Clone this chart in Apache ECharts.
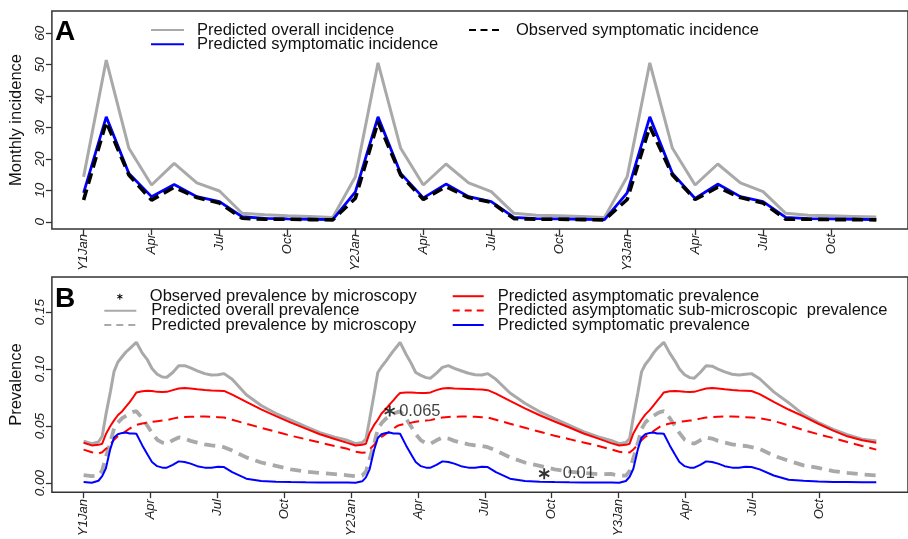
<!DOCTYPE html>
<html><head><meta charset="utf-8">
<script src="https://cdn.jsdelivr.net/npm/echarts@6/dist/echarts.min.js"></script>
<style>html,body{margin:0;padding:0;background:#fff}#c{width:908px;height:539px}</style>
</head><body><div id="c"></div>
<script>
// ---------- Panel A: monthly incidence (36 months) ----------
const overallInc = [14.3, 51.5, 23.4, 11.7, 18.6, 12.4, 9.8, 2.7, 2.2, 1.9, 1.7, 1.4,
                    14.3, 50.6, 23.4, 11.7, 18.4, 12.4, 9.6, 2.7, 2.1, 1.9, 1.7, 1.4,
                    14.3, 50.6, 23.4, 11.7, 18.4, 12.4, 9.6, 2.7, 2.1, 1.9, 1.7, 1.5];
const symptInc   = [9.2, 33.4, 15.4, 8.0, 11.9, 8.0, 6.4, 1.6, 1.1, 0.9, 0.8, 0.7,
                    9.5, 33.4, 15.4, 7.6, 12.0, 8.0, 6.4, 1.4, 1.0, 0.9, 0.8, 0.7,
                    9.2, 33.4, 15.4, 7.4, 12.0, 8.0, 6.4, 1.4, 1.0, 0.9, 0.8, 0.7];
const observedInc = [6.9, 31.8, 14.9, 6.9, 11.0, 7.7, 6.0, 1.1, 0.8, 0.8, 0.7, 0.6,
                     7.5, 31.8, 14.9, 7.1, 11.2, 7.7, 6.2, 1.0, 0.8, 0.8, 0.7, 0.6,
                     7.1, 30.3, 14.9, 7.1, 11.0, 7.7, 6.0, 0.8, 0.8, 0.7, 0.7, 0.6];

// ---------- Panel B: prevalence (day of simulation) ----------
const prevDays = [0, 11, 20, 25, 30, 36, 41, 46, 52, 57, 62, 67, 71, 79, 86, 92, 99, 106, 112, 120, 128, 136, 144, 153, 163, 172, 181, 189, 200, 219, 239, 259, 279, 299, 318, 338,
  355, 366, 375, 380, 385, 391, 396, 401, 407, 412, 417, 422, 426, 434, 441, 447, 454, 461, 467, 475, 483, 491, 499, 508, 518, 527, 536, 544, 555, 574, 594, 614, 634, 654, 673, 693,
  710, 721, 730, 735, 740, 746, 751, 756, 762, 767, 772, 777, 781, 789, 796, 802, 809, 816, 822, 830, 838, 846, 854, 863, 873, 882, 891, 899, 910, 929, 949, 969, 989, 1009, 1028, 1048, 1067];

const overallPrev = [0.0368, 0.0345, 0.0360, 0.0410, 0.0600, 0.0800, 0.0980, 0.1060, 0.1110, 0.1150, 0.1180, 0.1210, 0.1235, 0.1140, 0.1080, 0.1005, 0.0955, 0.0930, 0.0928, 0.0970, 0.1030, 0.1030, 0.1010, 0.0985, 0.0960, 0.0948, 0.0950, 0.0960, 0.0910, 0.0775, 0.0680, 0.0610, 0.0553, 0.0495, 0.0442, 0.0403,
  0.0375, 0.0345, 0.0355, 0.0385, 0.0560, 0.0780, 0.0970, 0.1020, 0.1070, 0.1115, 0.1160, 0.1200, 0.1235, 0.1130, 0.1050, 0.0970, 0.0945, 0.0925, 0.0920, 0.0965, 0.1015, 0.1030, 0.1006, 0.0985, 0.0963, 0.0950, 0.0948, 0.0960, 0.0910, 0.0790, 0.0700, 0.0625, 0.0565, 0.0505, 0.0450, 0.0405,
  0.0373, 0.0345, 0.0355, 0.0390, 0.0580, 0.0790, 0.0975, 0.1040, 0.1090, 0.1140, 0.1180, 0.1210, 0.1235, 0.1140, 0.1070, 0.1000, 0.0950, 0.0925, 0.0920, 0.0970, 0.1030, 0.1025, 0.1000, 0.0975, 0.0955, 0.0948, 0.0955, 0.0960, 0.0915, 0.0800, 0.0705, 0.0600, 0.0530, 0.0470, 0.0425, 0.0385, 0.0368];

const microPrev = [0.0070, 0.0060, 0.0065, 0.0110, 0.0230, 0.0360, 0.0480, 0.0530, 0.0570, 0.0590, 0.0610, 0.0625, 0.0630, 0.0570, 0.0500, 0.0440, 0.0380, 0.0355, 0.0345, 0.0375, 0.0400, 0.0390, 0.0370, 0.0355, 0.0340, 0.0330, 0.0325, 0.0315, 0.0285, 0.0225, 0.0180, 0.0150, 0.0120, 0.0100, 0.0088, 0.0078,
  0.0068, 0.0060, 0.0065, 0.0100, 0.0210, 0.0345, 0.0470, 0.0525, 0.0565, 0.0588, 0.0608, 0.0622, 0.0628, 0.0565, 0.0495, 0.0430, 0.0375, 0.0350, 0.0345, 0.0375, 0.0400, 0.0390, 0.0370, 0.0355, 0.0340, 0.0330, 0.0325, 0.0315, 0.0285, 0.0225, 0.0180, 0.0150, 0.0120, 0.0100, 0.0088, 0.0078,
  0.0080, 0.0065, 0.0065, 0.0105, 0.0220, 0.0350, 0.0475, 0.0530, 0.0570, 0.0590, 0.0610, 0.0625, 0.0630, 0.0570, 0.0500, 0.0440, 0.0380, 0.0355, 0.0345, 0.0375, 0.0400, 0.0390, 0.0370, 0.0355, 0.0340, 0.0330, 0.0325, 0.0315, 0.0300, 0.0240, 0.0195, 0.0155, 0.0132, 0.0105, 0.0090, 0.0075, 0.0066];

const asymPrev = [0.0353, 0.0330, 0.0335, 0.0345, 0.0430, 0.0500, 0.0550, 0.0595, 0.0630, 0.0670, 0.0710, 0.0755, 0.0795, 0.0805, 0.0810, 0.0808, 0.0800, 0.0798, 0.0800, 0.0815, 0.0830, 0.0833, 0.0830, 0.0822, 0.0816, 0.0812, 0.0810, 0.0808, 0.0775, 0.0712, 0.0647, 0.0587, 0.0530, 0.0477, 0.0428, 0.0387,
  0.0352, 0.0330, 0.0335, 0.0345, 0.0440, 0.0510, 0.0555, 0.0610, 0.0650, 0.0690, 0.0725, 0.0765, 0.0790, 0.0795, 0.0795, 0.0792, 0.0790, 0.0790, 0.0795, 0.0815, 0.0830, 0.0833, 0.0830, 0.0828, 0.0825, 0.0822, 0.0820, 0.0815, 0.0785, 0.0720, 0.0655, 0.0595, 0.0540, 0.0487, 0.0435, 0.0390,
  0.0350, 0.0330, 0.0335, 0.0345, 0.0435, 0.0505, 0.0555, 0.0600, 0.0640, 0.0680, 0.0720, 0.0760, 0.0795, 0.0805, 0.0808, 0.0805, 0.0800, 0.0798, 0.0800, 0.0815, 0.0830, 0.0833, 0.0830, 0.0822, 0.0816, 0.0812, 0.0810, 0.0808, 0.0780, 0.0712, 0.0645, 0.0585, 0.0520, 0.0460, 0.0410, 0.0375, 0.0353];

const asymSubPrev = [0.0293, 0.0270, 0.0260, 0.0270, 0.0300, 0.0340, 0.0380, 0.0410, 0.0432, 0.0455, 0.0478, 0.0500, 0.0510, 0.0522, 0.0530, 0.0538, 0.0543, 0.0548, 0.0552, 0.0565, 0.0575, 0.0580, 0.0582, 0.0583, 0.0583, 0.0581, 0.0578, 0.0575, 0.0555, 0.0520, 0.0485, 0.0450, 0.0415, 0.0385, 0.0355, 0.0325,
  0.0300, 0.0275, 0.0265, 0.0268, 0.0295, 0.0335, 0.0375, 0.0405, 0.0430, 0.0455, 0.0478, 0.0500, 0.0510, 0.0522, 0.0530, 0.0538, 0.0543, 0.0548, 0.0552, 0.0565, 0.0575, 0.0580, 0.0582, 0.0583, 0.0583, 0.0581, 0.0578, 0.0575, 0.0555, 0.0520, 0.0485, 0.0450, 0.0415, 0.0385, 0.0355, 0.0325,
  0.0295, 0.0275, 0.0265, 0.0268, 0.0295, 0.0335, 0.0375, 0.0405, 0.0430, 0.0455, 0.0478, 0.0500, 0.0510, 0.0522, 0.0530, 0.0538, 0.0543, 0.0548, 0.0552, 0.0565, 0.0575, 0.0580, 0.0582, 0.0583, 0.0583, 0.0581, 0.0578, 0.0575, 0.0570, 0.0545, 0.0505, 0.0465, 0.0428, 0.0395, 0.0360, 0.0325, 0.0293];

const symptPrev = [0.0008, 0.0003, 0.0020, 0.0060, 0.0130, 0.0300, 0.0400, 0.0428, 0.0440, 0.0443, 0.0435, 0.0435, 0.0432, 0.0330, 0.0250, 0.0185, 0.0148, 0.0135, 0.0135, 0.0160, 0.0190, 0.0185, 0.0170, 0.0148, 0.0135, 0.0135, 0.0143, 0.0140, 0.0095, 0.0038, 0.0018, 0.0012, 0.0008, 0.0006, 0.0005, 0.0004,
  0.0004, 0.0003, 0.0015, 0.0050, 0.0120, 0.0290, 0.0395, 0.0428, 0.0440, 0.0443, 0.0435, 0.0435, 0.0432, 0.0330, 0.0250, 0.0185, 0.0148, 0.0135, 0.0135, 0.0160, 0.0190, 0.0185, 0.0170, 0.0148, 0.0135, 0.0135, 0.0143, 0.0140, 0.0095, 0.0038, 0.0018, 0.0012, 0.0008, 0.0006, 0.0005, 0.0004,
  0.0005, 0.0003, 0.0018, 0.0055, 0.0125, 0.0295, 0.0398, 0.0428, 0.0440, 0.0443, 0.0435, 0.0435, 0.0432, 0.0330, 0.0250, 0.0185, 0.0148, 0.0135, 0.0135, 0.0160, 0.0190, 0.0185, 0.0170, 0.0148, 0.0135, 0.0135, 0.0143, 0.0140, 0.0120, 0.0066, 0.0029, 0.0019, 0.0013, 0.0010, 0.0008, 0.0006, 0.0006];

// observed prevalence by microscopy
const obsDays = [412, 620];
const obsPrev = [0.065, 0.01];
const obsLabels = ['0.065', '0.01'];

// ticks
const tickLabels = ['Y1Jan', 'Apr', 'Jul', 'Oct', 'Y2Jan', 'Apr', 'Jul', 'Oct', 'Y3Jan', 'Apr', 'Jul', 'Oct'];
const monthTicks = [0, 3, 6, 9, 12, 15, 18, 21, 24, 27, 30, 33];
const dayTicks = [0, 90, 180, 270, 360, 450, 540, 630, 720, 810, 900, 990];
const incTicks = [0, 10, 20, 30, 40, 50, 60];
const prevTicks = [0, 0.05, 0.10, 0.15];

// ---------- styling ----------
const FONT = 'Liberation Sans, Arial, sans-serif';
const GRAY = '#a9a9a9';
const AX = '#333';
const STAR = 'path://M-1.3,-8 L1.3,-8 L1.3,8 L-1.3,8 Z M-7.58,-2.874 L-6.28,-5.126 L7.58,2.874 L6.28,5.126 Z M-6.28,5.126 L-7.58,2.874 L6.28,-5.126 L7.58,-2.874 Z';

function xAxisCfg(gi, min, max, ticks, margin) {
  return {
    type: 'value', gridIndex: gi, min: min, max: max,
    axisLine: { show: false, onZero: false },
    splitLine: { show: false },
    axisTick: { show: true, length: 6, lineStyle: { color: AX, width: 1.3 }, customValues: ticks },
    axisLabel: { customValues: ticks, rotate: 90, margin: margin, color: '#222', fontFamily: FONT,
      fontSize: 13, fontStyle: 'italic',
      formatter: v => tickLabels[ticks.indexOf(v)] }
  };
}
function yAxisCfg(gi, min, max, ticks, name, fmt) {
  return {
    type: 'value', gridIndex: gi, min: min, max: max,
    name: name, nameLocation: 'middle', nameRotate: 90, nameGap: 19,
    nameTextStyle: { fontFamily: FONT, fontSize: 16.5, color: '#111' },
    axisLine: { show: false, onZero: false },
    splitLine: { show: false },
    axisTick: { show: true, length: 6, lineStyle: { color: AX, width: 1.3 }, customValues: ticks },
    axisLabel: { customValues: ticks, rotate: 90, margin: 5, color: '#222', fontFamily: FONT,
      fontSize: 13.5, fontStyle: 'italic', align: 'center', verticalAlign: 'bottom', formatter: fmt }
  };
}

const lineBase = { type: 'line', symbol: 'none', showSymbol: false, animation: false };
function leg(name, left, centerY, w, pad, extra) {
  return Object.assign({
    data: [name], orient: 'vertical', left: left, top: centerY - 8.5, padding: 0,
    itemWidth: w, itemHeight: 14, itemGap: 0, selectedMode: false,
    itemStyle: { opacity: 0 },
    textStyle: { fontFamily: FONT, fontSize: 16.5, color: '#111', padding: [0, 0, 0, pad] }
  }, extra || {});
}

const option = {
  animation: false,
  backgroundColor: '#fff',
  grid: [
    { left: 46.7, top: 11, width: 869.4, height: 218, show: true, borderColor: AX, borderWidth: 1.5, backgroundColor: 'transparent' },
    { left: 46.7, top: 277, width: 872.3, height: 219, show: true, borderColor: AX, borderWidth: 1.5, backgroundColor: 'transparent' }
  ],
  xAxis: [
    xAxisCfg(0, -1.4, 36.4, monthTicks, 5),
    xAxisCfg(1, -42.7, 1109.7, dayTicks, 7)
  ],
  yAxis: [
    yAxisCfg(0, -2.3, 67.1, incTicks, 'Monthly incidence', v => String(v)),
    yAxisCfg(1, -0.008, 0.1808, prevTicks, 'Prevalence', v => v.toFixed(2))
  ],
  legend: [
    leg('Predicted overall incidence', 150, 30, 33, 8),
    leg('Predicted symptomatic incidence', 150, 44.3, 33, 8),
    leg('Observed symptomatic incidence', 468, 30, 30, 12, { lineStyle: { type: [7, 4.5] } }),
    leg('Observed prevalence by microscopy', 117, 296.7, 6, 22, { itemWidth: 6, itemHeight: 6, itemStyle: { opacity: 1 } }),
    leg('Predicted overall prevalence', 103.3, 310.7, 32, 10),
    leg('Predicted prevalence by microscopy', 103.3, 325, 32, 10, { lineStyle: { type: [7, 5] } }),
    leg('Predicted asymptomatic prevalence', 451.7, 296.2, 31, 9),
    leg('Predicted asymptomatic sub-microscopic  prevalence', 451.7, 310.5, 31, 9, { lineStyle: { type: [7, 5] } }),
    leg('Predicted symptomatic prevalence', 451.7, 325, 31, 9)
  ],
  graphic: [
    { type: 'text', left: 55, top: 18, style: { text: 'A', font: 'bold 28px ' + FONT, fill: '#000' } },
    { type: 'text', left: 55, top: 285, style: { text: 'B', font: 'bold 28px ' + FONT, fill: '#000' } }
  ],
  series: [
    Object.assign({}, lineBase, { name: 'Predicted overall incidence', xAxisIndex: 0, yAxisIndex: 0,
      data: overallInc.map((v, i) => [i, v]), lineStyle: { color: GRAY, width: 3 }, itemStyle: { color: GRAY }, z: 2 }),
    Object.assign({}, lineBase, { name: 'Predicted symptomatic incidence', xAxisIndex: 0, yAxisIndex: 0,
      data: symptInc.map((v, i) => [i, v]), lineStyle: { color: '#0000ff', width: 2.8 }, itemStyle: { color: '#0000ff' }, z: 3 }),
    Object.assign({}, lineBase, { name: 'Observed symptomatic incidence', xAxisIndex: 0, yAxisIndex: 0,
      data: observedInc.map((v, i) => [i, v]), lineStyle: { color: '#000', width: 3.6, type: [11, 6] }, itemStyle: { color: '#000' }, z: 4 }),

    Object.assign({}, lineBase, { name: 'Predicted overall prevalence', xAxisIndex: 1, yAxisIndex: 1,
      data: prevDays.map((d, i) => [d, overallPrev[i]]), lineStyle: { color: GRAY, width: 3 }, itemStyle: { color: GRAY }, z: 2 }),
    Object.assign({}, lineBase, { name: 'Predicted prevalence by microscopy', xAxisIndex: 1, yAxisIndex: 1,
      data: prevDays.map((d, i) => [d, microPrev[i]]), lineStyle: { color: GRAY, width: 3.8, type: [11, 7] }, itemStyle: { color: GRAY }, z: 2 }),
    Object.assign({}, lineBase, { name: 'Predicted asymptomatic prevalence', xAxisIndex: 1, yAxisIndex: 1,
      data: prevDays.map((d, i) => [d, asymPrev[i]]), lineStyle: { color: '#ff0000', width: 2 }, itemStyle: { color: '#ff0000' }, z: 3 }),
    Object.assign({}, lineBase, { name: 'Predicted asymptomatic sub-microscopic  prevalence', xAxisIndex: 1, yAxisIndex: 1,
      data: prevDays.map((d, i) => [d, asymSubPrev[i]]), lineStyle: { color: '#ff0000', width: 2, type: [10, 6] }, itemStyle: { color: '#ff0000' }, z: 3 }),
    Object.assign({}, lineBase, { name: 'Predicted symptomatic prevalence', xAxisIndex: 1, yAxisIndex: 1,
      data: prevDays.map((d, i) => [d, symptPrev[i]]), lineStyle: { color: '#0000ff', width: 2 }, itemStyle: { color: '#0000ff' }, z: 3 }),
    { type: 'scatter', name: 'Observed prevalence by microscopy', xAxisIndex: 1, yAxisIndex: 1, animation: false,
      symbol: STAR, symbolSize: 11, symbolOffset: [0, 2], itemStyle: { color: '#000' }, z: 5,
      data: obsDays.map((d, i) => ({ value: [d, obsPrev[i]], label: { distance: i === 0 ? 4 : 13 } })),
      label: { show: true, position: 'right', fontFamily: FONT, fontSize: 16.5, color: '#111',
        formatter: p => obsLabels[p.dataIndex] } }
  ]
};

const chart = echarts.init(document.getElementById('c'), null, { renderer: 'canvas' });
chart.setOption(option);
</script>
</body></html>
